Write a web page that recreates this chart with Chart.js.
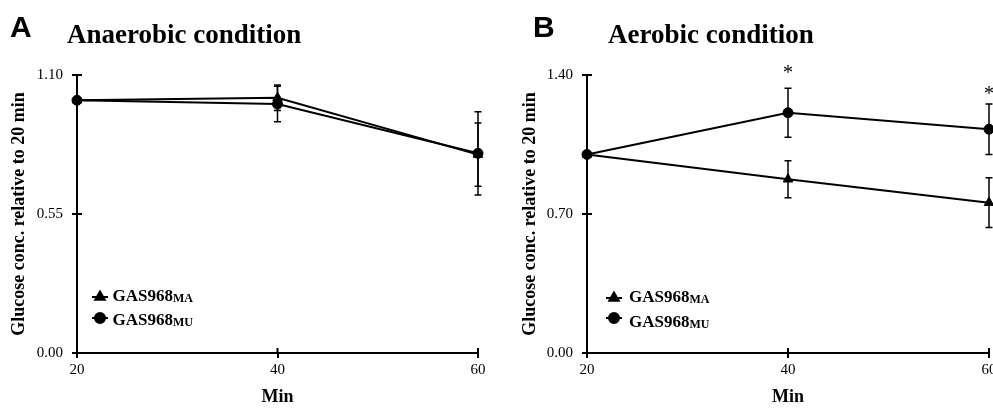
<!DOCTYPE html>
<html>
<head>
<meta charset="utf-8">
<script src="https://cdn.jsdelivr.net/npm/chart.js@4.4.1/dist/chart.umd.min.js"></script>
<style>
  html, body { margin: 0; padding: 0; background: #fff; overflow: hidden; width: 993px; height: 408px; }
  canvas { position: absolute; top: 0; }
  #chartA { left: 0; }
  #chartB { left: 496px; }
</style>
</head>
<body>
<canvas id="chartA" width="496" height="408"></canvas>
<canvas id="chartB" width="510" height="408"></canvas>
<script>
// ---------- DATA ----------
const minutes = [20, 40, 60];

// panel A: anaerobic
const anaerobicMA = [1.00, 1.01, 0.785];
const anaerobicMAErr = [0, 0.05, 0.125];
const anaerobicMU = [1.00, 0.985, 0.79];
const anaerobicMUErr = [0, 0.07, 0.165];
const yTicksA = [0, 0.55, 1.10];

// panel B: aerobic
const aerobicMA = [1.00, 0.875, 0.757];
const aerobicMAErr = [0, 0.093, 0.125];
const aerobicMU = [1.00, 1.21, 1.127];
const aerobicMUErr = [0, 0.123, 0.127];
const aerobicStars = [null, 1.43, 1.325];
const yTicksB = [0, 0.70, 1.40];

const strainName = "GAS968";
const strainSubs = ["MA", "MU"];

// ---------- STYLE ----------
const SERIF = '"Liberation Serif", "Times New Roman", serif';
const SANS = '"Liberation Sans", Arial, sans-serif';
const INK = "#000";

// ---------- PLUGINS ----------
const errorBars = {
  id: "errorBars",
  afterDatasetsDraw(chart) {
    const { ctx, scales: { x, y } } = chart;
    ctx.save();
    ctx.strokeStyle = INK;
    ctx.lineWidth = 1.5;
    chart.data.datasets.forEach((ds) => {
      if (!ds.errors) return;
      ds.data.forEach((p, i) => {
        const e = ds.errors[i];
        if (!e) return;
        const px = x.getPixelForValue(p.x);
        const top = y.getPixelForValue(p.y + e);
        const bot = y.getPixelForValue(p.y - e);
        ctx.beginPath();
        ctx.moveTo(px, top); ctx.lineTo(px, bot);
        ctx.moveTo(px - 3.5, top); ctx.lineTo(px + 3.5, top);
        ctx.moveTo(px - 3.5, bot); ctx.lineTo(px + 3.5, bot);
        ctx.stroke();
      });
    });
    ctx.restore();
  }
};

// ticks that cross the axis line (inner half)
const innerTicks = {
  id: "innerTicks",
  afterDraw(chart) {
    const { ctx, chartArea, scales: { x, y } } = chart;
    ctx.save();
    ctx.strokeStyle = INK;
    ctx.lineWidth = 2;
    ctx.beginPath();
    x.ticks.slice(1).forEach((t) => {
      const px = x.getPixelForValue(t.value);
      ctx.moveTo(px, chartArea.bottom); ctx.lineTo(px, chartArea.bottom - 5);
    });
    y.ticks.slice(1).forEach((t) => {
      const py = y.getPixelForValue(t.value);
      ctx.moveTo(chartArea.left, py); ctx.lineTo(chartArea.left + 5, py);
    });
    ctx.stroke();
    ctx.restore();
  }
};

const stars = {
  id: "stars",
  afterDraw(chart, args, opts) {
    if (!opts.values) return;
    const { ctx, scales: { x, y } } = chart;
    ctx.save();
    ctx.fillStyle = INK;
    ctx.font = "20px " + SERIF;
    ctx.textAlign = "center";
    ctx.textBaseline = "alphabetic";
    const m = ctx.measureText("*");
    const mid = (m.actualBoundingBoxAscent - m.actualBoundingBoxDescent) / 2;
    opts.values.forEach((v, i) => {
      if (v == null) return;
      ctx.fillText("*", x.getPixelForValue(minutes[i]), y.getPixelForValue(v) + mid);
    });
    ctx.restore();
  }
};

// legend with subscripted strain names
const subLegend = {
  id: "subLegend",
  afterDraw(chart, args, opts) {
    const { ctx } = chart;
    ctx.save();
    chart.data.datasets.forEach((ds, i) => {
      const cy = opts.markerY + i * opts.markerGap;
      ctx.strokeStyle = INK;
      ctx.lineWidth = 2;
      ctx.beginPath();
      ctx.moveTo(opts.x - 8, cy); ctx.lineTo(opts.x + 8, cy);
      ctx.stroke();
      ctx.fillStyle = INK;
      Chart.helpers.drawPoint(ctx, {
        pointStyle: ds.pointStyle, radius: ds.pointRadius, borderWidth: 1, rotation: 0
      }, opts.x, cy);
      ctx.fill();
      const tx = opts.textX, base = opts.textY + i * opts.textGap;
      ctx.font = "bold 17px " + SERIF;
      ctx.textBaseline = "alphabetic";
      ctx.fillText(ds.label, tx, base);
      const w = ctx.measureText(ds.label).width;
      ctx.font = "bold 12px " + SERIF;
      ctx.fillText(ds.sub, tx + w, base + 1);
    });
    ctx.restore();
  }
};

const headings = {
  id: "headings",
  afterDraw(chart, args, opts) {
    const { ctx } = chart;
    ctx.save();
    ctx.fillStyle = INK;
    ctx.textBaseline = "alphabetic";
    ctx.font = "bold 30px " + SANS;
    ctx.fillText(opts.letter, opts.letterX, 37);
    ctx.font = "bold 27px " + SERIF;
    ctx.fillText(opts.title, opts.titleX, 43);
    ctx.restore();
  }
};

// ---------- CHART BUILDER ----------
function series(values, errs, sub, style, radius) {
  return {
    label: strainName,
    sub,
    data: minutes.map((m, i) => ({ x: m, y: values[i] })),
    errors: errs,
    borderColor: INK,
    backgroundColor: INK,
    borderWidth: 2,
    pointStyle: style,
    pointRadius: radius,
    pointBorderWidth: 1,
    pointBackgroundColor: INK,
    tension: 0,
    clip: false
  };
}

function buildChart(id, cfg) {
  return new Chart(document.getElementById(id), {
    type: "line",
    data: {
      datasets: [
        series(cfg.ma, cfg.maErr, strainSubs[0], "triangle", 5.5),
        series(cfg.mu, cfg.muErr, strainSubs[1], "circle", 5)
      ]
    },
    options: {
      responsive: false,
      animation: false,
      layout: { padding: { left: 0, top: 75, right: cfg.padRight, bottom: 0 } },
      plugins: {
        legend: { display: false },
        tooltip: { enabled: false },
        stars: { values: cfg.stars },
        subLegend: cfg.legend,
        headings: cfg.headings
      },
      scales: {
        x: {
          type: "linear",
          min: 20, max: 60,
          afterBuildTicks: (s) => { s.ticks = minutes.map((v) => ({ value: v })); },
          afterFit: (s) => { s.height = 55; },
          ticks: { color: INK, font: { family: SERIF, size: 15 }, padding: 3 },
          grid: { drawOnChartArea: false, color: INK, lineWidth: 2, tickLength: 5 },
          border: { color: INK, width: 2 },
          title: {
            display: true, text: "Min", color: INK,
            font: { family: SERIF, size: 18, weight: "bold" },
            padding: { top: 0, bottom: 0 }
          }
        },
        y: {
          min: 0, max: cfg.yTicks[cfg.yTicks.length - 1],
          afterBuildTicks: (s) => { s.ticks = cfg.yTicks.map((v) => ({ value: v })); },
          afterFit: (s) => { s.width = cfg.yWidth; },
          ticks: { color: INK, font: { family: SERIF, size: 15 }, padding: 9, callback: (v) => v.toFixed(2) },
          grid: { drawOnChartArea: false, color: INK, lineWidth: 2, tickLength: 5 },
          border: { color: INK, width: 2 },
          title: {
            display: true, text: "Glucose conc. relative to 20 min", color: INK,
            font: { family: SERIF, size: 18, weight: "bold" },
            padding: { top: cfg.yTitlePad, bottom: 0 }
          }
        }
      }
    },
    plugins: [errorBars, innerTicks, stars, subLegend, headings]
  });
}

buildChart("chartA", {
  ma: anaerobicMA, maErr: anaerobicMAErr,
  mu: anaerobicMU, muErr: anaerobicMUErr,
  yTicks: yTicksA, yWidth: 77, yTitlePad: 9, padRight: 18,
  stars: null,
  legend: { x: 100, markerY: 297, markerGap: 21, textX: 112.5, textY: 301, textGap: 24 },
  headings: { letter: "A", letterX: 10, title: "Anaerobic condition", titleX: 67 }
});

buildChart("chartB", {
  ma: aerobicMA, maErr: aerobicMAErr,
  mu: aerobicMU, muErr: aerobicMUErr,
  yTicks: yTicksB, yWidth: 91, yTitlePad: 24, padRight: 17,
  stars: aerobicStars,
  legend: { x: 118, markerY: 298, markerGap: 20, textX: 133, textY: 302, textGap: 25 },
  headings: { letter: "B", letterX: 37, title: "Aerobic condition", titleX: 112 }
});
</script>
</body>
</html>
